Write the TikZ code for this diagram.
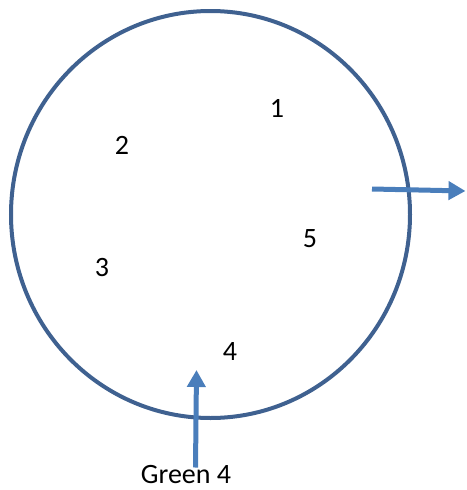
\documentclass[tikz,border=0pt]{standalone}
\usepackage{fontspec}
\setmainfont{Carlito}
\usetikzlibrary{arrows.meta}
\definecolor{ringblue}{HTML}{3F6190}
\definecolor{arrowblue}{HTML}{4A7EBB}
\begin{document}
\begin{tikzpicture}[x=1pt,y=-1pt,
  lbl/.style={font=\fontsize{28}{32}\selectfont, inner sep=0pt},
  flow/.style={draw=arrowblue, line width=5pt, -{Triangle[width=18pt,length=17pt]}, arrowblue}]
\useasboundingbox (0,0) rectangle (466,490);
\draw[ringblue, line width=4pt] (210.5,214.5) ellipse [x radius=199.5, y radius=203.5];
\node[lbl] (n1) at (277,108) {1};
\node[lbl] (n2) at (122,145) {2};
\node[lbl] (n3) at (102,268) {3};
\node[lbl] (n4) at (230,352) {4};
\node[lbl] (n5) at (310,239) {5};
\node[lbl] (g4) at (186,475) {Green 4};
\coordinate (rs) at (372,189);
\coordinate (re) at (465.5,191);
\coordinate (us) at (195.5,467.5);
\coordinate (ue) at (196.5,370);
\draw[flow] (rs) -- (re);
\draw[flow] (us) -- (ue);
\end{tikzpicture}
\end{document}
